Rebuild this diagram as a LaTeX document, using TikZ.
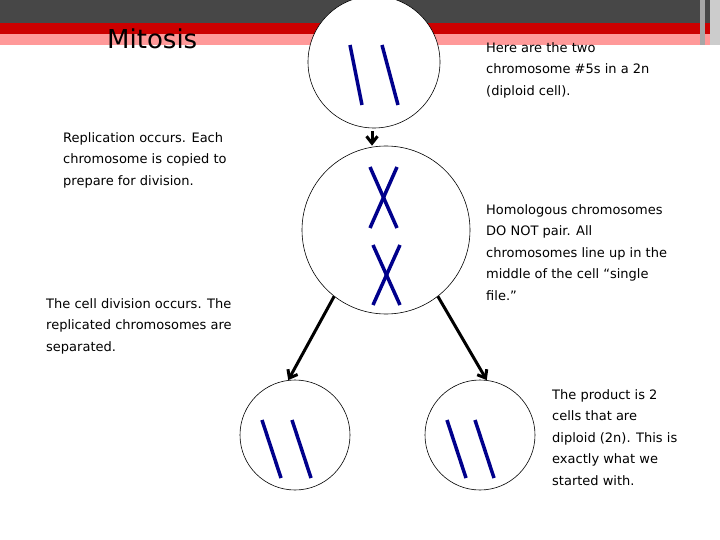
\documentclass[tikz,border=0pt]{standalone}
\usepackage{fontspec}
\setmainfont{DejaVu Sans}
\usetikzlibrary{arrows.meta}
\begin{document}
\begin{tikzpicture}[x=1pt,y=-1pt,
  cell/.style={draw=black,fill=white,circle,line width=0.6pt},
  chrom/.style={draw={rgb,255:red,0;green,0;blue,140},line width=3.5pt},
  arr/.style={draw=black,line width=3pt,-{Straight Barb[length=7pt,width=11pt]}},
  txt/.style={align=left,anchor=north west,font=\fontsize{13}{21.5}\selectfont,inner sep=0pt}]
\useasboundingbox (0,0) rectangle (720,540);
\fill[white] (0,0) rectangle (720,540);
\fill[black!72] (0,0) rectangle (720,23);
\fill[red!80!black] (0,23) rectangle (720,34);
\fill[red!40] (0,34) rectangle (720,45);
\fill[white] (0,45) rectangle (700,48);
\fill[black!35] (700,0) rectangle (705,45);
\fill[black!20] (710,0) rectangle (720,45);
\node[txt,font=\fontsize{26}{30}\selectfont] (title) at (107,29) {Mitosis};
\node[cell,minimum size=132pt] (c1) at (374,62) {};
\node[cell,minimum size=168pt] (c2) at (386,230) {};
\node[cell,minimum size=110pt] (c3) at (295,435) {};
\node[cell,minimum size=110pt] (c4) at (480,435) {};
\draw[chrom] (350,45) -- (362,105); \draw[chrom] (382,45) -- (398,105);
\draw[chrom] (370,167) -- (397,228); \draw[chrom] (397,167) -- (370,228);
\draw[chrom] (373,245) -- (400,305); \draw[chrom] (400,245) -- (373,305);
\draw[chrom] (262,420) -- (281,478); \draw[chrom] (292,420) -- (311,478);
\draw[chrom] (447,420) -- (466,478); \draw[chrom] (475,420) -- (494,478);
\draw[arr] (c1.south) ++(-2,3) coordinate (a1) -- (c2.north -| a1);
\draw[arr] (c2.232) -- (c3.97);
\draw[arr] (c2.308) -- (c4.83);
\node[txt] (t1) at (486,42) {Here are the two\\chromosome \#5s in a 2n\\(diploid cell).};
\node[txt] (t2) at (63,132) {Replication occurs. Each\\chromosome is copied to\\prepare for division.};
\node[txt] (t3) at (486,204) {Homologous chromosomes\\DO NOT pair. All\\chromosomes line up in the\\middle of the cell “single\\file.”};
\node[txt] (t4) at (46,298) {The cell division occurs. The\\replicated chromosomes are\\separated.};
\node[txt] (t5) at (552,389) {The product is 2\\cells that are\\diploid (2n). This is\\exactly what we\\started with.};
\end{tikzpicture}
\end{document}
